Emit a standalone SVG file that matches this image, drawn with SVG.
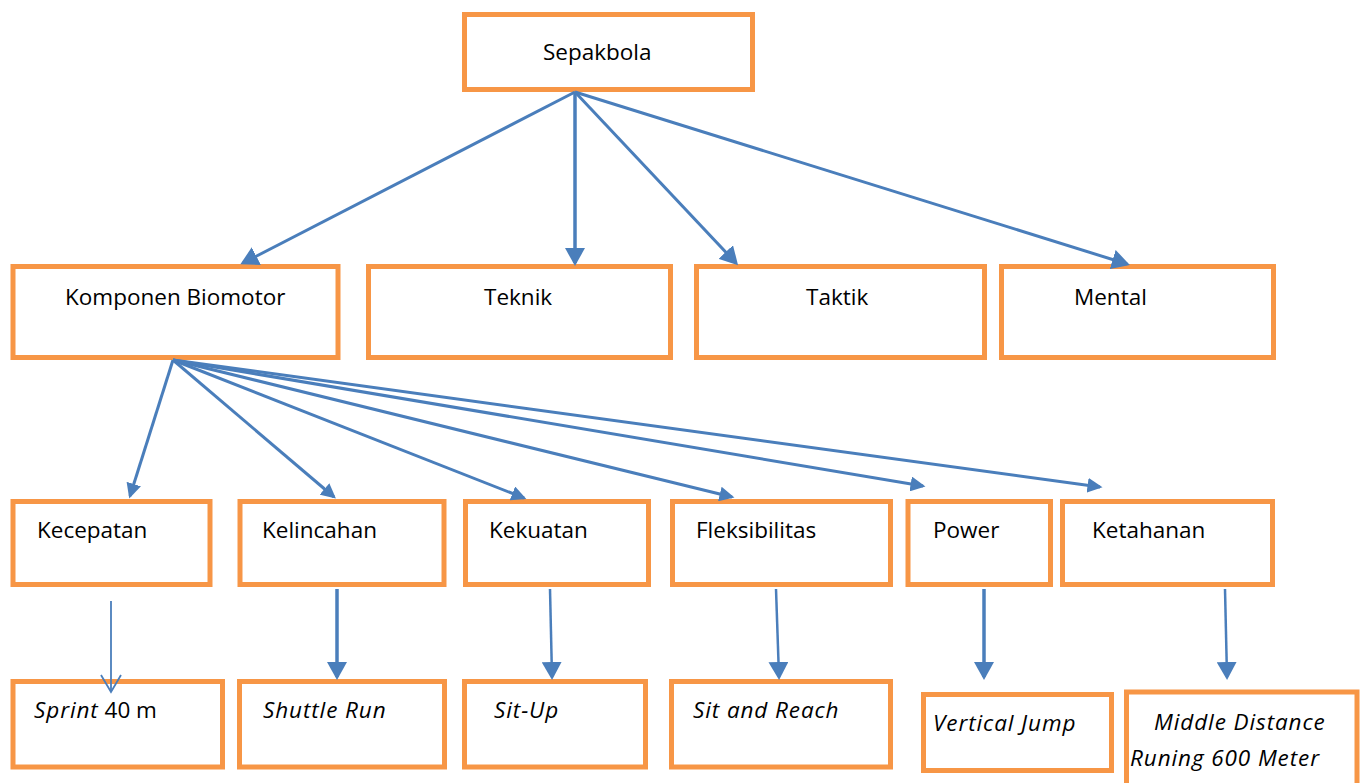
<svg xmlns="http://www.w3.org/2000/svg" width="1365" height="783" viewBox="0 0 1365 783">
<style>
.box{fill:#ffffff;stroke:#F79646;stroke-width:5}
.t{font-family:"Open Sans","Liberation Sans",sans-serif;font-size:22.5px;fill:#000000}
.i{font-style:italic;letter-spacing:0.9px}
.c{stroke:#4A7EBB;stroke-width:3;fill:none}
</style>
<defs>
<marker id="aL" markerUnits="userSpaceOnUse" markerWidth="20" markerHeight="20" refX="15" refY="10" orient="auto"><path d="M0,0 L18,10 L0,20 z" fill="#4A7EBB"/></marker>
<marker id="aS" markerUnits="userSpaceOnUse" markerWidth="16" markerHeight="15" refX="12.5" refY="7.5" orient="auto"><path d="M0,0 L15,7.5 L0,15 z" fill="#4A7EBB"/></marker>
</defs>
<rect width="1365" height="783" fill="#ffffff"/>
<g id="sepakbola"><rect class="box" x="464.5" y="14.5" width="288" height="75"/><text class="t" x="543" y="60">Sepakbola</text></g>
<g id="komponen"><rect class="box" x="13" y="266.5" width="325" height="91"/><text class="t" x="65" y="305">Komponen Biomotor</text></g>
<g id="teknik"><rect class="box" x="368.5" y="266.5" width="302" height="91"/><text class="t" x="484" y="305">Teknik</text></g>
<g id="taktik"><rect class="box" x="696.5" y="266.5" width="288" height="91"/><text class="t" x="806" y="305">Taktik</text></g>
<g id="mental"><rect class="box" x="1001.5" y="266.5" width="272" height="91"/><text class="t" x="1074" y="305">Mental</text></g>
<g id="kecepatan"><rect class="box" x="13" y="501.5" width="197" height="83"/><text class="t" x="37" y="538">Kecepatan</text></g>
<g id="kelincahan"><rect class="box" x="240" y="501.5" width="204" height="83"/><text class="t" x="262" y="538">Kelincahan</text></g>
<g id="kekuatan"><rect class="box" x="465.5" y="501.5" width="183" height="83"/><text class="t" x="489" y="538">Kekuatan</text></g>
<g id="fleksibilitas"><rect class="box" x="672.5" y="501.5" width="218" height="83"/><text class="t" x="696" y="538">Fleksibilitas</text></g>
<g id="power"><rect class="box" x="908" y="501.5" width="142.5" height="83"/><text class="t" x="933" y="538">Power</text></g>
<g id="ketahanan"><rect class="box" x="1062.5" y="501.5" width="210" height="83"/><text class="t" x="1092" y="538">Ketahanan</text></g>
<g id="sprint"><rect class="box" x="13" y="681.5" width="209.5" height="85.5"/><text class="t" x="34" y="718"><tspan class="i">Sprint</tspan> 40 m</text></g>
<g id="shuttle"><rect class="box" x="239.5" y="681.5" width="205" height="85.5"/><text class="t i" x="263" y="718">Shuttle Run</text></g>
<g id="situp"><rect class="box" x="464.5" y="681.5" width="181" height="85.5"/><text class="t i" x="494" y="718">Sit-Up</text></g>
<g id="sitreach"><rect class="box" x="671.5" y="681.5" width="219" height="85.5"/><text class="t i" x="693" y="718">Sit and Reach</text></g>
<g id="vertical"><rect class="box" x="923.5" y="694.5" width="188" height="76"/><text class="t i" x="933" y="731">Vertical Jump</text></g>
<g id="middle"><rect class="box" x="1126.5" y="692" width="230.5" height="100"/><text class="t i" x="1154" y="730">Middle Distance</text><text class="t i" x="1130" y="766">Runing 600 Meter</text></g>
<g id="connectors">
<line class="c" x1="575" y1="92" x2="243" y2="263" marker-end="url(#aL)"/>
<line class="c" x1="575" y1="92" x2="575" y2="263" marker-end="url(#aL)" style="stroke-width:3.5"/>
<line class="c" x1="575" y1="92" x2="736" y2="263" marker-end="url(#aL)"/>
<line class="c" x1="575" y1="92" x2="1127" y2="264" marker-end="url(#aL)"/>
<line class="c" x1="173" y1="360" x2="130" y2="496" marker-end="url(#aS)"/>
<line class="c" x1="173" y1="360" x2="334" y2="497" marker-end="url(#aS)"/>
<line class="c" x1="173" y1="360" x2="524" y2="498" marker-end="url(#aS)"/>
<line class="c" x1="173" y1="360" x2="732" y2="497" marker-end="url(#aS)"/>
<line class="c" x1="173" y1="360" x2="923" y2="486" marker-end="url(#aS)"/>
<line class="c" x1="173" y1="360" x2="1100" y2="487" marker-end="url(#aS)"/>
<line class="c" x1="111" y1="601" x2="111" y2="691" style="stroke-width:1.8"/>
<path class="c" d="M101,675 L111,692 L121,675" style="stroke-width:1.8"/>
<line class="c" x1="337" y1="589" x2="337" y2="677" marker-end="url(#aL)" style="stroke-width:3.5"/>
<line class="c" x1="550" y1="589" x2="552" y2="677" marker-end="url(#aL)" style="stroke-width:2.5"/>
<line class="c" x1="776" y1="589" x2="779" y2="677" marker-end="url(#aL)" style="stroke-width:2.5"/>
<line class="c" x1="984" y1="589" x2="984" y2="677" marker-end="url(#aL)" style="stroke-width:3.5"/>
<line class="c" x1="1225" y1="589" x2="1227" y2="677" marker-end="url(#aL)" style="stroke-width:2.5"/>
</g>
</svg>
